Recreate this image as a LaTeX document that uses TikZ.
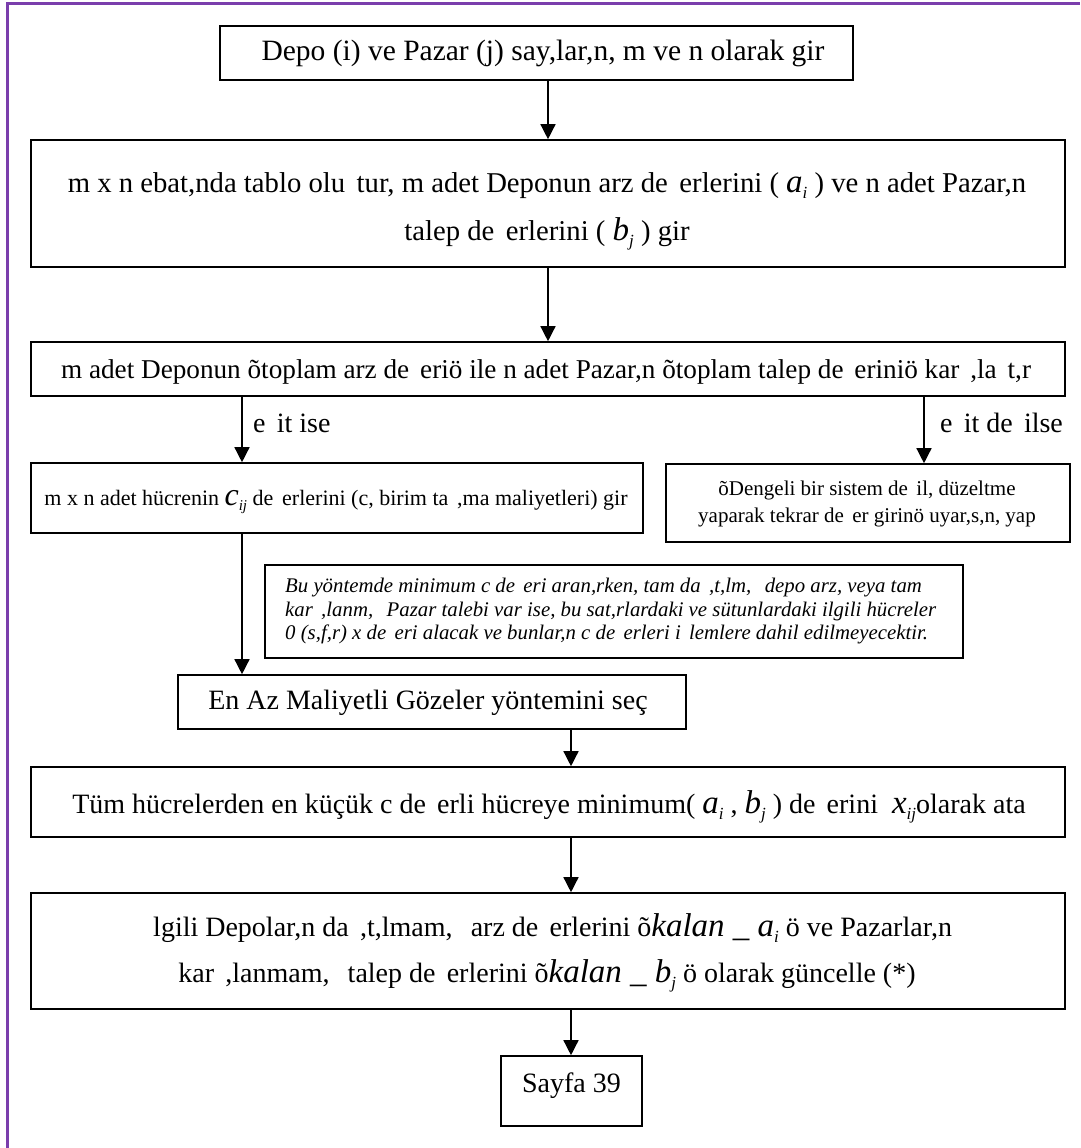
\documentclass[tikz,border=0pt]{standalone}
\usepackage{fontspec}
\setmainfont{Liberation Serif}
\usetikzlibrary{arrows.meta}

\definecolor{framepurple}{RGB}{122,62,172}

% gap left by a glyph the original font could not show
\newcommand{\gp}{\hspace*{0.4em}}
% italic symbol with italic subscript
\newcommand{\sv}[2]{{\fontsize{33}{33}\selectfont\itshape #1}{\fontsize{17}{17}\selectfont\raisebox{-0.35em}{\itshape #2}}}
\newcommand{\svs}[2]{{\fontsize{32}{32}\selectfont\itshape #1}{\fontsize{15}{15}\selectfont\raisebox{-0.35em}{\itshape #2}}}
\newcommand{\kal}[2]{{\fontsize{33}{33}\selectfont\itshape kalan \_ #1}{\fontsize{17}{17}\selectfont\raisebox{-0.35em}{\itshape #2}}}

\begin{document}
\begin{tikzpicture}[x=1pt,y=-1pt,
  box/.style={draw, line width=1.6pt, inner sep=0pt},
  txt/.style={font=\fontsize{28}{48}\selectfont, align=center, inner sep=0pt},
  small/.style={font=\fontsize{22}{27}\selectfont, align=center, inner sep=0pt},
  note/.style={font=\fontsize{20.8}{23.5}\selectfont\itshape, align=left, inner sep=0pt},
  arr/.style={line width=1.4pt, -{Triangle[length=15pt,width=15pt]}}]

\useasboundingbox (0,0) rectangle (1080,1148);

% page frame
\draw[framepurple, line width=2.5pt] (7.5,1148) -- (7.5,3.5) -- (1080,3.5);

% columns of the connectors
\coordinate (cA) at (548,0);
\coordinate (cL) at (242,0);
\coordinate (cR) at (924,0);
\coordinate (cB) at (571,0);

% boxes
\node[box, minimum width=633pt, minimum height=54pt] (b1) at (536.5,53) {};
\node[txt, font=\fontsize{29.5}{48}\selectfont] (t1) at (543,53) {Depo (i) ve Pazar (j) say,lar,n, m ve n olarak gir};

\node[box, minimum width=1034pt, minimum height=127pt] (b2) at (548,203.5) {};
\node[txt, font=\fontsize{28.7}{48}\selectfont] (t2) at (547,211) {m x n ebat,nda tablo olu\gp tur, m adet Deponun arz de\gp erlerini ( \sv{a}{i} ) ve n adet Pazar,n\\talep de\gp erlerini ( \sv{b}{j} ) gir};

\node[box, minimum width=1034pt, minimum height=54pt] (b3) at (548,369) {};
\node[txt, font=\fontsize{27.2}{48}\selectfont] (t3) at (546,372) {m adet Deponun õtoplam arz de\gp eriö ile n adet Pazar,n õtoplam talep de\gp eriniö kar\gp ,la\gp t,r};

\node[box, minimum width=612pt, minimum height=70pt] (b4) at (337,498) {};
\node[small] (t4) at (336,502) {m x n adet hücrenin \svs{c}{ij} de\gp erlerini (c, birim ta\gp ,ma maliyetleri) gir};

\node[box, minimum width=404pt, minimum height=78pt] (b5) at (868,503) {};
\node[small, font=\fontsize{21}{27}\selectfont] (t5) at (867,503.5) {õDengeli bir sistem de\gp il, düzeltme\\yaparak tekrar de\gp er girinö uyar,s,n, yap};

\node[box, minimum width=698pt, minimum height=93pt] (bn) at (614,611.5) {};
\node[note, anchor=west] (tn) at (285,611.5) {Bu yöntemde minimum c de\gp eri aran,rken, tam da\gp ,t,lm,\gp{} depo arz, veya tam\\kar\gp ,lanm,\gp{} Pazar talebi var ise, bu sat,rlardaki ve sütunlardaki ilgili hücreler\\0 (s,f,r) x de\gp eri alacak ve bunlar,n c de\gp erleri i\gp lemlere dahil edilmeyecektir.};

\node[box, minimum width=508pt, minimum height=54pt] (b6) at (432,702) {};
\node[txt] (t6) at (428,703) {En Az Maliyetli Gözeler yöntemini seç};

\node[box, minimum width=1034pt, minimum height=70pt] (b7) at (548,802) {};
\node[txt] (t7) at (549,807) {Tüm hücrelerden en küçük c de\gp erli hücreye minimum( \sv{a}{i} , \sv{b}{j} ) de\gp erini \ \sv{x}{ij}olarak ata};

\node[box, minimum width=1034pt, minimum height=116pt] (b8) at (548,951) {};
\node[font=\fontsize{28}{46}\selectfont, align=center, inner sep=0pt] (t8) at (547,953) {\gp lgili Depolar,n da\gp ,t,lmam,\gp{} arz de\gp erlerini õ\kal{a}{i} ö ve Pazarlar,n\\kar\gp ,lanmam,\gp{} talep de\gp erlerini õ\kal{b}{j} ö olarak güncelle (*)};

\node[box, minimum width=141pt, minimum height=70pt] (b9) at (571.5,1091) {};
\node[txt] (t9) at (571.5,1086) {Sayfa 39};

% branch labels
\node[txt, anchor=west] (l1) at (253,423) {e\gp it ise};
\node[txt, anchor=west] (l2) at (940,423) {e\gp it de\gp ilse};

% connectors
\draw[arr] (b1.south -| cA) -- (b2.north -| cA);
\draw[arr] (b2.south -| cA) -- (b3.north -| cA);
\draw[arr] (b3.south -| cL) -- (b4.north -| cL);
\draw[arr] (b3.south -| cR) -- (b5.north -| cR);
\draw[arr] (b4.south -| cL) -- (b6.north -| cL);
\draw[arr] (b6.south -| cB) -- (b7.north -| cB);
\draw[arr] (b7.south -| cB) -- (b8.north -| cB);
\draw[arr] (b8.south -| cB) -- (b9.north -| cB);
\end{tikzpicture}
\end{document}
